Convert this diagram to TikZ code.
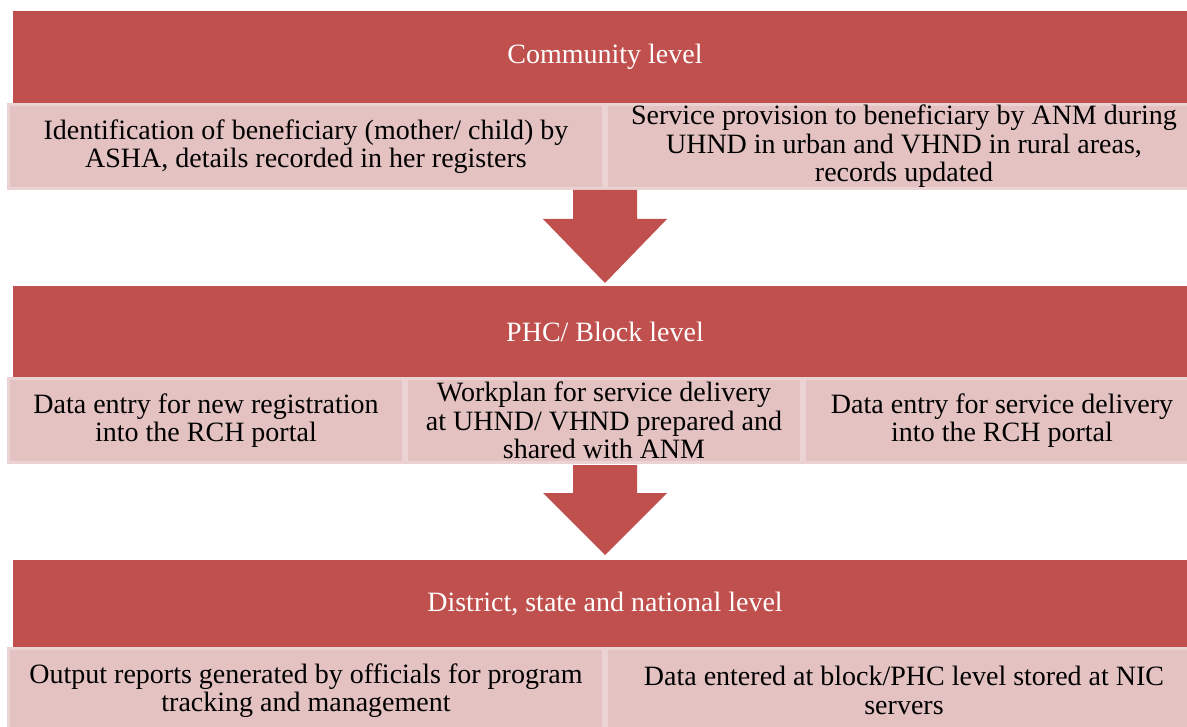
\documentclass[tikz,border=0pt]{standalone}
\usepackage{fontspec}
\setmainfont{Liberation Serif}
\definecolor{levelred}{HTML}{C0504D}
\definecolor{steppink}{HTML}{E3C2C1}
\definecolor{stepedge}{HTML}{EBD3D3}
\begin{document}
\begin{tikzpicture}[x=1pt, y=-1pt,
  every node/.style={font=\fontsize{28}{28.5}\selectfont, inner sep=0pt, outer sep=0pt, align=center},
  level/.style={fill=levelred, text=white, minimum width=1184pt},
  stepbox/.style={fill=steppink, draw=stepedge, line width=3pt, minimum height=84pt},
  wide/.style={stepbox, minimum width=595pt},
  narrow/.style={stepbox, minimum width=395pt}]
  \useasboundingbox (0,0) rectangle (1187,727);
  \clip (0,0) rectangle (1187,727);
  % levels
  \node[level, minimum height=92pt] (community) at (605,57) {Community level};
  \node[level, minimum height=91pt] (block) at (605,331.5) {PHC/ Block level};
  \node[level, minimum height=87pt] (district) at (605,603.5) {District, state and national level};
  % community steps
  \node[wide] (identify) at (306,146.5) {Identification of beneficiary (mother/ child) by\\ASHA, details recorded in her registers};
  \node[wide] (provide) at (904,146.5) {Service provision to beneficiary by ANM during\\UHND in urban and VHND in rural areas,\\records updated};
  % block steps
  \node[narrow] (register) at (206,420.5) {Data entry for new registration\\into the RCH portal};
  \node[narrow] (workplan) at (604,420.5) {Workplan for service delivery\\at UHND/ VHND prepared and\\shared with ANM};
  \node[narrow] (delivery) at (1002,420.5) {Data entry for service delivery\\into the RCH portal};
  % district steps
  \node[wide] (reports) at (306,690.5) {Output reports generated by officials for program\\tracking and management};
  \node[wide] (servers) at (904,690.5) {Data entered at block/PHC level stored at NIC\\servers};
  % block arrows
  \coordinate (a1) at (605,190); \coordinate (a2) at (605,465);
  \fill[levelred] (a1) ++(-32,0) -- ++(64,0) -- ++(0,29) -- ++(30,0) -- ++(-62,64)
    -- ++(-62,-64) -- ++(30,0) -- cycle;
  \fill[levelred] (a2) ++(-32,0) -- ++(64,0) -- ++(0,28) -- ++(30,0) -- ++(-62,62)
    -- ++(-62,-62) -- ++(30,0) -- cycle;
\end{tikzpicture}
\end{document}
